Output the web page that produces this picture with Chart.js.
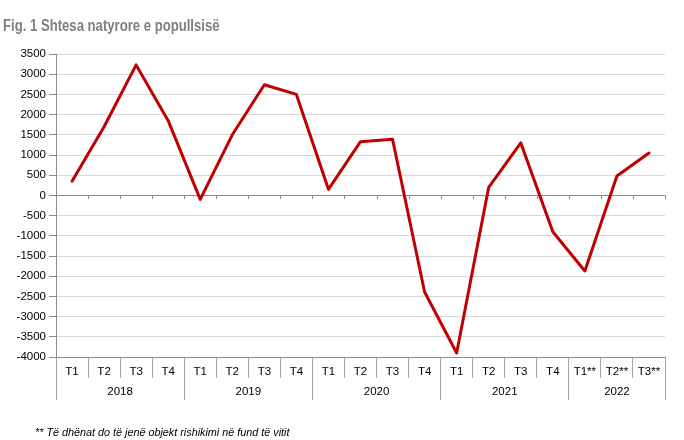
<!DOCTYPE html>
<html><head><meta charset="utf-8">
<script src="https://cdn.jsdelivr.net/npm/chart.js@4"></script>
<style>
html,body{margin:0;padding:0;background:#fff;}
#wrap{position:relative;width:684px;height:440px;overflow:hidden;}
#title{position:absolute;left:3px;top:18px;font:bold 16px "Liberation Sans",Arial,sans-serif;color:#7f7f7f;line-height:16px;white-space:nowrap;transform:scaleX(0.82);transform-origin:0 0;}
#note{position:absolute;left:35px;top:427px;font:italic 10.8px "Liberation Sans",Arial,sans-serif;line-height:11px;color:#000;white-space:nowrap;}
canvas{position:absolute;left:0;top:0;}
</style></head>
<body><div id="wrap"><canvas id="c" width="684" height="440"></canvas><div id="title">Fig. 1 Shtesa natyrore e popullsisë</div><div id="note">** Të dhënat do të jenë objekt rishikimi në fund të vitit</div></div>
<script>
const quarters = ['T1','T2','T3','T4','T1','T2','T3','T4','T1','T2','T3','T4','T1','T2','T3','T4','T1**','T2**','T3**'];
const years = ['2018','2019','2020','2021','2022'];
const quartersPerYear = [4,4,4,4,3];
const values = [350, 1700, 3230, 1850, -100, 1500, 2740, 2500, 150, 1330, 1390, -2390, -3900, 200, 1300, -900, -1870, 480, 1050];
const yMin = -4000, yMax = 3500, yStep = 500;

// year label centres and boundaries (in category index units)
const yearBounds = [-0.5];
const yearCentres = [];
quartersPerYear.forEach(n => {
  const start = yearBounds[yearBounds.length - 1];
  yearCentres.push(start + n / 2);
  yearBounds.push(start + n);
});
const near = (a, b) => Math.abs(a - b) < 1e-6;

const FONT = 'Liberation Sans, Arial, sans-serif';
const AXIS = '#8c8c8c';

const zeroTicks = {
  id: 'zeroTicks',
  beforeDatasetsDraw(chart) {
    const { ctx, scales: { x, y } } = chart;
    const y0 = Math.round(y.getPixelForValue(0));
    ctx.save();
    ctx.strokeStyle = AXIS;
    ctx.lineWidth = 1;
    for (let i = 0; i <= quarters.length; i++) {
      const px = Math.round(x.getPixelForValue(i - 0.5)) + 0.5;
      ctx.beginPath();
      ctx.moveTo(px, y0);
      ctx.lineTo(px, y0 + 4);
      ctx.stroke();
    }
    ctx.restore();
  }
};

new Chart(document.getElementById('c'), {
  type: 'line',
  data: {
    labels: quarters,
    datasets: [{
      data: values,
      borderColor: '#c00000',
      borderWidth: 3,
      pointRadius: 0,
      tension: 0,
      borderJoinStyle: 'round',
      borderCapStyle: 'round',
      fill: false
    }]
  },
  plugins: [zeroTicks],
  options: {
    responsive: false,
    animation: false,
    devicePixelRatio: 1,
    layout: { padding: { top: 54, right: 19, bottom: 40, left: 0 } },
    plugins: { legend: { display: false }, tooltip: { enabled: false }, title: { display: false } },
    scales: {
      y: {
        min: yMin, max: yMax,
        ticks: { stepSize: yStep, color: '#000', font: { family: FONT, size: 11.5 }, padding: 3, callback: v => String(v) },
        grid: {
          color: c => (c.tick && c.tick.value === 0) ? AXIS : '#d9d9d9',
          tickColor: AXIS,
          tickLength: 7
        },
        border: { color: AXIS },
        afterFit(s) { s.width = 56; }
      },
      x: {
        type: 'category',
        position: 'bottom',
        weight: 0,
        offset: true,
        grid: { offset: true, drawOnChartArea: false, tickLength: 21, color: '#a6a6a6' },
        border: { color: AXIS },
        ticks: { autoSkip: false, maxRotation: 0, minRotation: 0, padding: -13, color: '#000', font: { family: FONT, size: 11.5 } },
        afterFit(s) { s.height = 21; }
      },
      x2: {
        type: 'linear',
        position: 'bottom',
        weight: 1,
        min: -0.5, max: quarters.length - 0.5,
        afterBuildTicks(s) {
          s.ticks = yearBounds.concat(yearCentres).sort((a, b) => a - b).map(v => ({ value: v }));
        },
        ticks: {
          autoSkip: false, maxRotation: 0, minRotation: 0, padding: -15, color: '#000', font: { family: FONT, size: 11.5 },
          callback(v) { const i = yearCentres.findIndex(c => near(c, v)); return i >= 0 ? years[i] : ''; }
        },
        grid: {
          drawOnChartArea: false, tickLength: 22,
          color: c => (c.tick && yearBounds.some(b => near(b, c.tick.value))) ? '#a6a6a6' : 'rgba(0,0,0,0)'
        },
        border: { display: false },
        afterFit(s) { s.height = 22; }
      }
    }
  }
});
</script>
</body></html>
